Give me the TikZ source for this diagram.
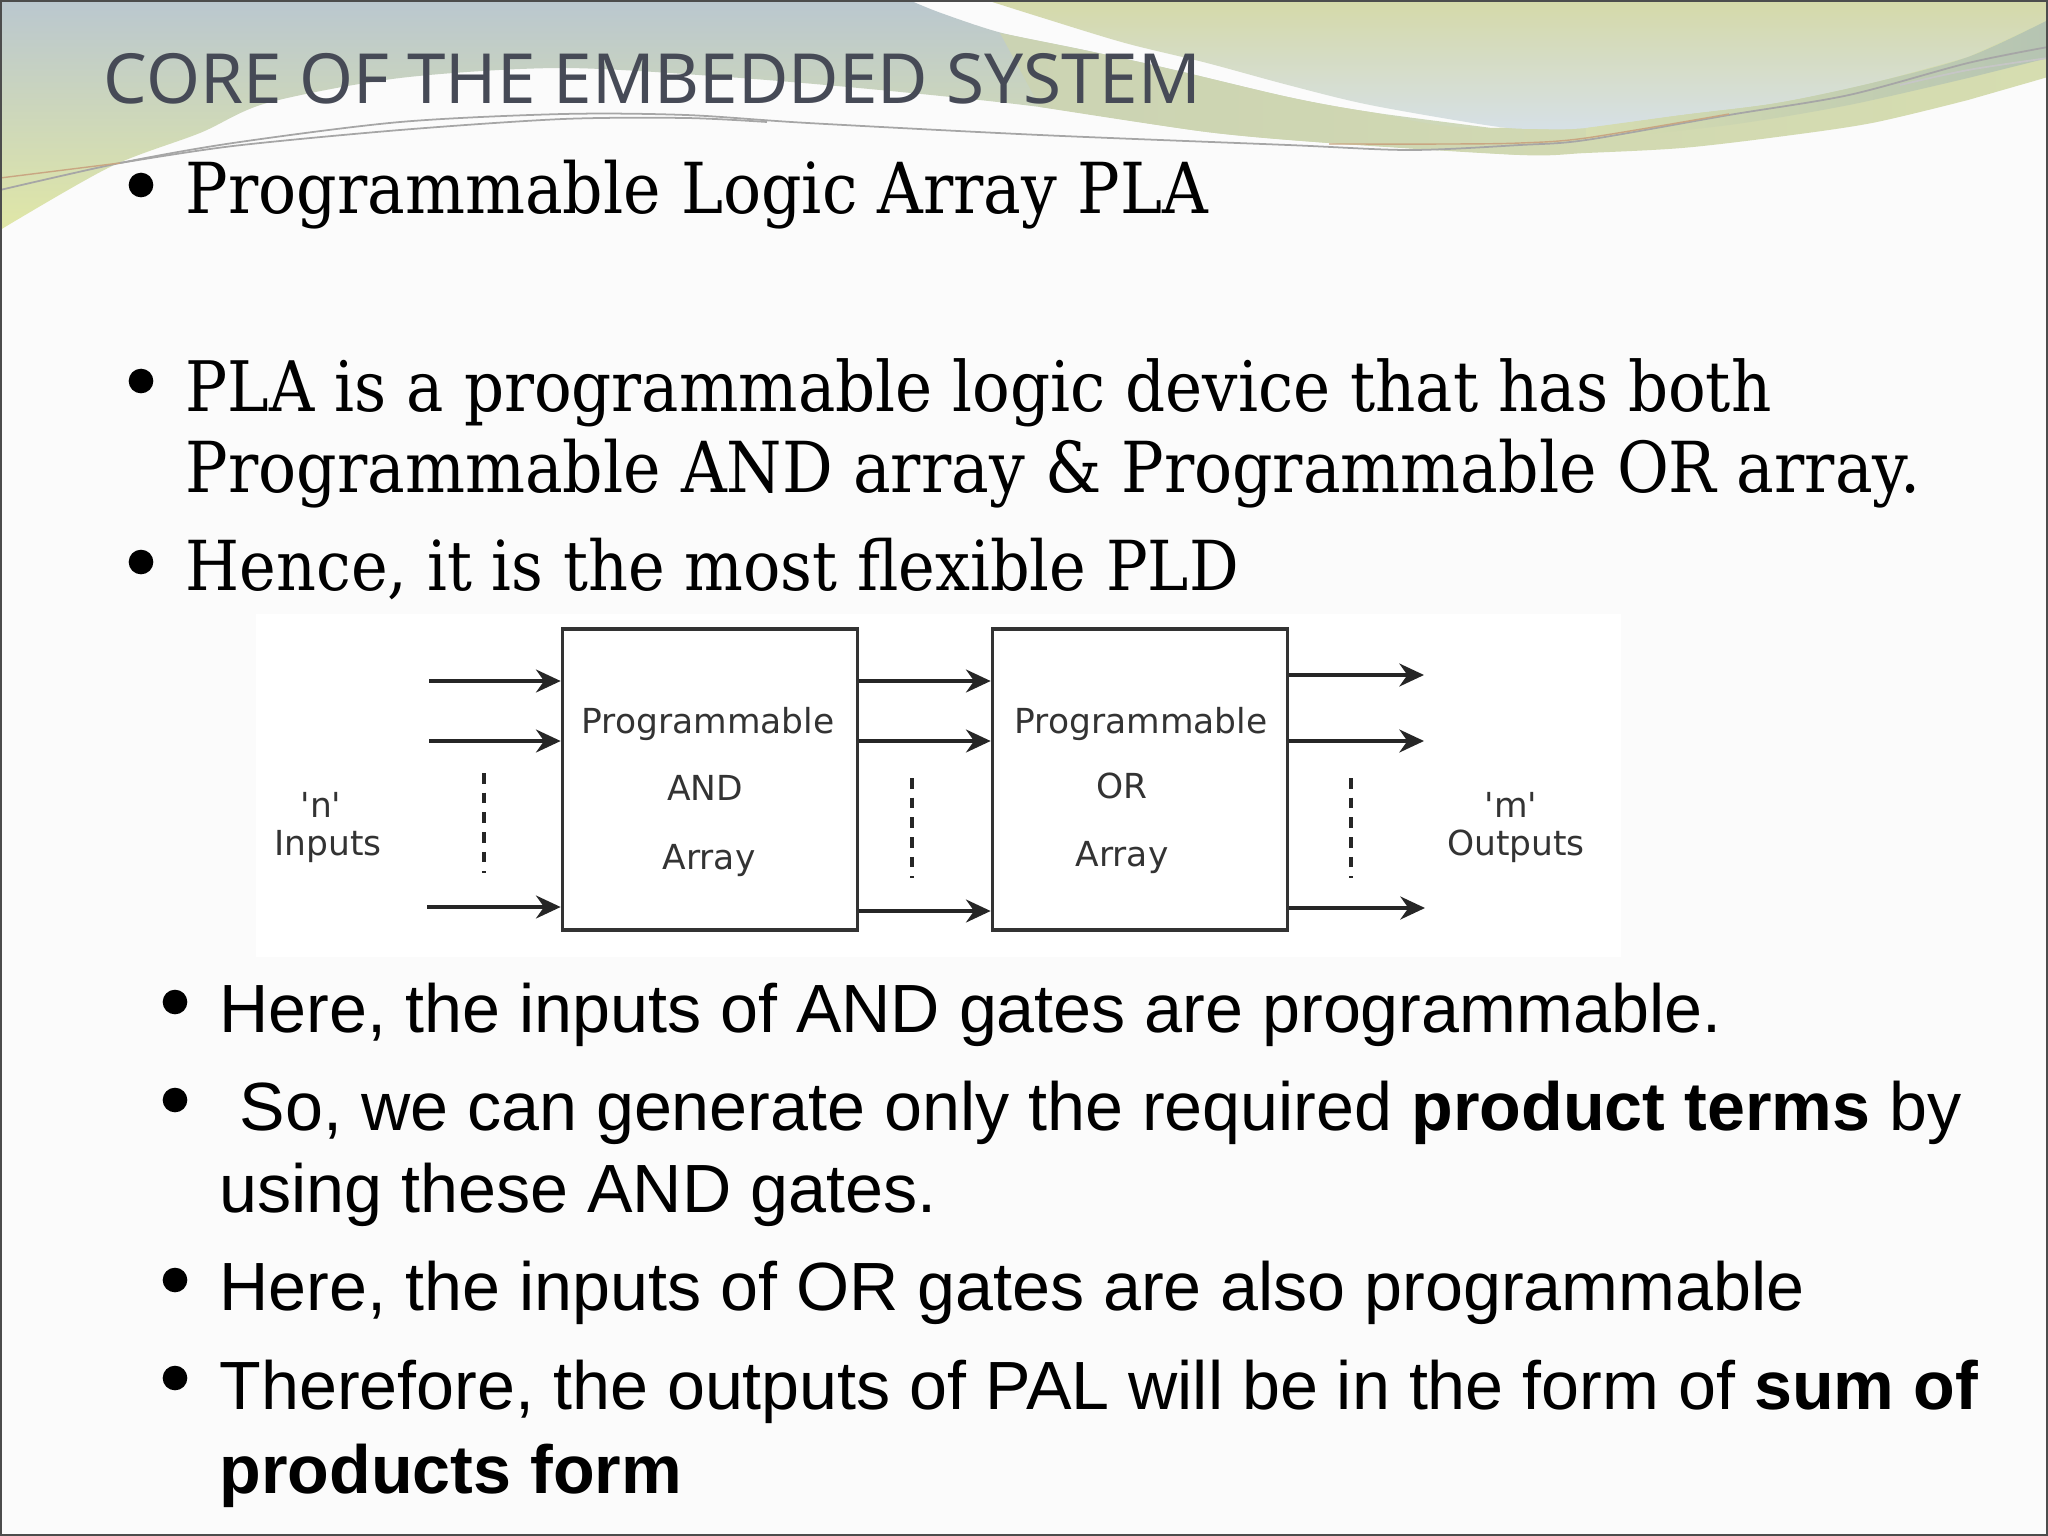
\documentclass[tikz,border=0pt]{standalone}
\usepackage{fontspec}
\setmainfont{DejaVu Serif}[FakeStretch=0.9]
\setsansfont{Liberation Sans}
\newfontfamily\titlefont{Noto Sans}
\newfontfamily\figfont{DejaVu Sans}
\usetikzlibrary{arrows.meta}
\definecolor{titlegrey}{HTML}{464A56}
\definecolor{slidebg}{HTML}{FBFBFB}
\definecolor{bluegrey}{HTML}{BAC7CF}
\definecolor{midgrey}{HTML}{C6D0B5}
\definecolor{leafgreen}{HTML}{E0E7A6}
\definecolor{sagegreen}{HTML}{D5D9A8}
\definecolor{paleblue}{HTML}{D6E0E6}
\definecolor{bandgreen}{HTML}{D6DDB0}
\definecolor{bandstart}{HTML}{CBD3B3}
\definecolor{darkband}{HTML}{B5C4B2}
\tikzset{
  serifline/.style={anchor=base west,inner sep=0pt,font=\fontsize{20}{20}\selectfont},
  sansline/.style={anchor=base west,inner sep=0pt,font=\fontsize{19.4}{19.4}\sffamily},
  bulletdot/.style={circle,fill=black,inner sep=0pt,minimum size=7pt},
  logicbox/.style={draw=black!80,line width=1pt,fill=white,inner sep=0pt,minimum width=2.95cm,minimum height=3.01cm},
  figlabel/.style={inner sep=0pt,text=black!80,font=\fontsize{9.8}{9.8}\figfont},
  sig/.style={draw=black!85,line width=1.1pt,-{Stealth[length=7pt,width=6.5pt]}},
  dots/.style={draw=black!85,line width=.9pt,dash pattern=on 3pt off 2.6pt},
  wire/.style={line width=.5pt,draw=gray!70},
}
\begin{document}
\begin{tikzpicture}[x=.01cm,y=-.01cm]
\useasboundingbox (0,0) rectangle (2048,1536);
\fill[slidebg] (0,0) rectangle (2048,1536);

% swooshes
\path[top color=bluegrey,middle color=midgrey,bottom color=leafgreen]
 (0,0)-- plot[smooth] coordinates {(909,0)(941,13)(1002,33)(1084,50)(1166,68)(1288,97)(1370,112)(1492,128)}
 --(1520,155)-- plot[smooth] coordinates {(1329,143)(1207,132)(1040,107)(880,90)(727,77)(560,68)(400,78)(267,103)(200,133)(110,167)(0,230)}--cycle;
\path[left color=bandstart,middle color=bandgreen,right color=bandgreen]
 plot[smooth] coordinates {(1000,33)(1084,50)(1166,68)(1288,97)(1370,112)(1492,128)(1777,100)(2048,20)}
 --(2048,77)-- plot[smooth] coordinates {(1968,100)(1872,123)(1777,137)(1682,148)(1586,153)(1520,155)(1329,143)(1207,132)(1040,107)}--cycle;
\path[top color=sagegreen,bottom color=paleblue]
 (986,0)--(2048,0)--(2048,20)-- plot[smooth] coordinates {(1968,57)(1872,83)(1777,103)(1682,115)(1586,128)(1538,129)(1492,126)(1370,105)(1288,85)(1207,63)(1125,43)(1043,18)(986,0)}--cycle;
\path[left color=bandgreen,right color=darkband]
 plot[smooth] coordinates {(1586,128)(1682,115)(1777,103)(1872,83)(1968,57)(2048,20)}
 --(2048,58)-- plot[smooth] coordinates {(1968,78)(1849,105)(1729,125)(1586,140)}--cycle;
\draw[wire] plot[smooth] coordinates {(0,190)(120,163)(233,143)(400,122)(563,114)(686,115)(808,123)(1040,135)(1288,145)(1410,150)(1520,145)(1586,140)(1729,115)(1849,95)(1968,63)(2048,47)};
\draw[wire] plot[smooth] coordinates {(120,163)(233,146)(400,130)(563,119)(686,118)(767,122)};
\draw[wire,draw=gray!45] plot[smooth] coordinates {(1900,85)(1968,70)(2048,58)};
\draw[line width=.4pt,draw=orange!40!gray!70] plot[smooth] coordinates {(0,178)(120,163)};
\draw[line width=.4pt,draw=orange!40!gray!70] plot[smooth] coordinates {(1329,144)(1450,144)(1520,143)(1586,138)(1729,114)};

\draw[draw=black!70,line width=.6pt] (1,1) rectangle (2047,1535);
\node[inner sep=0pt,anchor=base west,text=titlegrey,font=\fontsize{19.67}{20}\titlefont] (title) at (103,103) {CORE OF THE EMBEDDED SYSTEM};

% upper text
\node[bulletdot] (b1) at (141,185) {};
\node[serifline] (s1) at (185,213) {Programmable Logic Array PLA};
\node[bulletdot] (b2) at (141,381) {};
\node[serifline,font=\fontsize{19.8}{20}\selectfont] (s2) at (185,411) {PLA is a programmable logic device that has both};
\node[serifline] (s3) at (185,492) {Programmable AND array \& Programmable OR array.};
\node[bulletdot] (b3) at (141,562) {};
\node[serifline,font=\fontsize{19.6}{20}\selectfont] (s4) at (185,590) {Hence, it is the most flexible PLD};

% block figure
\fill[white] (256,614) rectangle (1621,957);
\node[logicbox](pand) at (710,779.5){};
\node[logicbox](por) at (1140,779.5){};
\node[figlabel](and1) at (708,724){Programmable};
\node[figlabel](and2) at (705,788){AND};
\node[figlabel](and3) at (709,861){Array};
\node[figlabel](or1) at (1141,724){Programmable};
\node[figlabel](or2) at (1122,786){OR};
\node[figlabel](or3) at (1122,858){Array};
\node[figlabel](nlab) at (321,805){'n'};
\node[figlabel](inlab) at (328,847){Inputs};
\node[figlabel](mlab) at (1511,805){'m'};
\node[figlabel](outlab) at (1516,846){Outputs};

\coordinate(i1) at (429,681);
\coordinate(i2) at (429,741);
\coordinate(i3) at (427,907);
\coordinate(m1) at (900,681);
\coordinate(m2) at (900,741);
\coordinate(m3) at (900,911);
\coordinate(o1) at (1424,675);
\coordinate(o2) at (1424,741);
\coordinate(o3) at (1425,908);
\draw[sig](i1)--(i1-|pand.west);
\draw[sig](i2)--(i2-|pand.west);
\draw[sig](i3)--(i3-|pand.west);
\draw[sig](m1-|pand.east)--(m1-|por.west);
\draw[sig](m2-|pand.east)--(m2-|por.west);
\draw[sig](m3-|pand.east)--(m3-|por.west);
\draw[sig](o1-|por.east)--(o1);
\draw[sig](o2-|por.east)--(o2);
\draw[sig](o3-|por.east)--(o3);

\coordinate(d1) at (484,773);
\coordinate(d2) at (484,873);
\coordinate(d3) at (912,778);
\coordinate(d4) at (912,878);
\coordinate(d5) at (1351,778);
\coordinate(d6) at (1351,878);
\draw[dots](d1)--(d2);
\draw[dots](d3)--(d4);
\draw[dots](d5)--(d6);

% lower text
\node[bulletdot] (b4) at (175,1002) {};
\node[sansline] (t1) at (219,1032) {Here, the inputs of AND gates are programmable.};
\node[bulletdot] (b5) at (175,1100) {};
\node[sansline] (t2) at (239,1130) {So, we can generate only the required \textbf{product terms} by};
\node[sansline] (t3) at (219,1212) {using these AND gates.};
\node[bulletdot] (b6) at (175,1280) {};
\node[sansline] (t4) at (219,1310) {Here, the inputs of OR gates are also programmable};
\node[bulletdot] (b7) at (175,1378) {};
\node[sansline] (t5) at (219,1409) {Therefore, the outputs of PAL will be in the form of \textbf{sum of}};
\node[sansline] (t6) at (219,1493) {\textbf{products form}};
\end{tikzpicture}
\end{document}
